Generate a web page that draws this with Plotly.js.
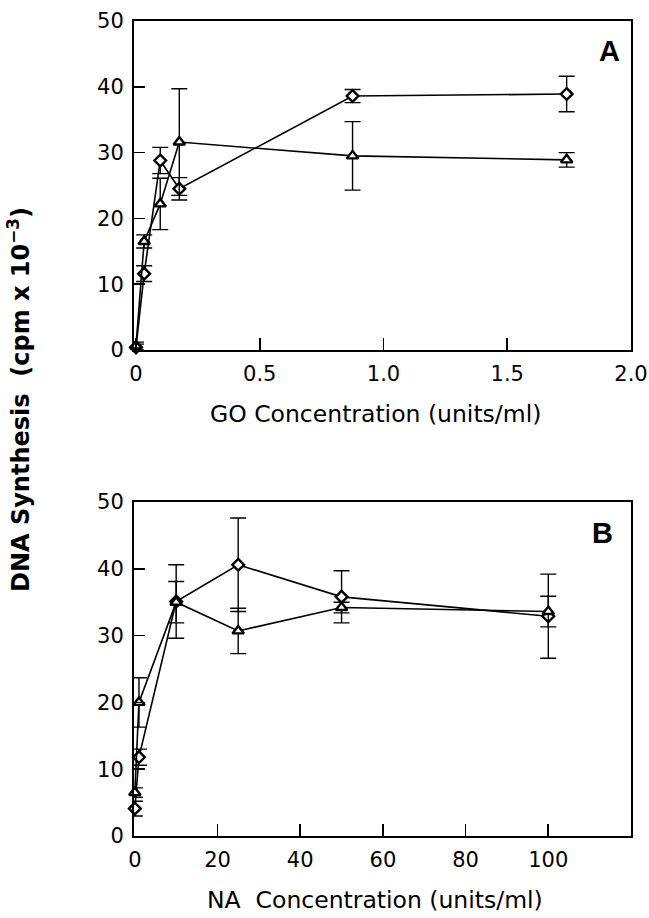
<!DOCTYPE html>
<html>
<head>
<meta charset="utf-8">
<script src="https://cdn.plot.ly/plotly-3.0.1.min.js"></script>
<style>html,body{margin:0;padding:0;background:#fff;}#chart{width:649px;height:918px;}</style>
</head>
<body>
<div id="chart"></div>
<script>
// Panel A: GO concentration (units/ml)
var goX = [0, 0.033, 0.098, 0.175, 0.875, 1.74];
var goDiamond = [0.4, 11.6, 28.8, 24.5, 38.6, 38.9];
var goDiamondErr = [0.5, 1.2, 2.0, 1.7, 1.0, 2.7];
var goTriangle = [0.6, 16.5, 22.2, 31.6, 29.5, 28.9];
var goTriangleErr = [0.6, 1.0, 3.9, 8.1, 5.2, 1.1];

// Panel B: NA concentration (units/ml)
var naX = [0, 1, 10, 25, 50, 100];
var naDiamond = [4.1, 11.8, 35.1, 40.6, 35.8, 32.9];
var naDiamondErr = [1.1, 1.2, 5.5, 7.0, 3.9, 6.3];
var naTriangle = [6.5, 20.0, 35.0, 30.7, 34.2, 33.6];
var naTriangleErr = [0.7, 3.7, 3.1, 3.4, 0.8, 2.3];

var goTickVals = [0, 0.5, 1, 1.5, 2];
var goTickText = ['0', '0.5', '1.0', '1.5', '2.0'];
var naTickVals = [0, 20, 40, 60, 80, 100, 120];
var yTickVals = [0, 10, 20, 30, 40, 50];

var FONT = 'DejaVu Sans, Verdana, sans-serif';
var FONT_B = 'Liberation Sans, Arial, Helvetica, sans-serif';

function series(x, y, err, sym, size, xa, ya) {
  return {
    type: 'scatter', mode: 'lines+markers', x: x, y: y, xaxis: xa, yaxis: ya,
    line: {color: '#000', width: 1.6},
    marker: {symbol: sym, size: size, color: '#fff', line: {color: '#000', width: 2.4}},
    error_y: {type: 'data', array: err, visible: true, color: '#000', thickness: 1.4, width: 8},
    cliponaxis: false, showlegend: false, hoverinfo: 'skip'
  };
}

var data = [
  series(goX, goDiamond, goDiamondErr, 'diamond', 9, 'x', 'y'),
  series(goX, goTriangle, goTriangleErr, 'triangle-up', 10, 'x', 'y'),
  series(naX, naDiamond, naDiamondErr, 'diamond', 9, 'x2', 'y2'),
  series(naX, naTriangle, naTriangleErr, 'triangle-up', 10, 'x2', 'y2')
];

var W = 649, H = 918;
var left = 134, right = 631;
var aTop = 21, aBot = 350, bTop = 502, bBot = 836;

function xax(domain, range, vals, text, anchor) {
  var a = {
    domain: domain, range: range, anchor: anchor,
    tickmode: 'array', tickvals: vals,
    ticks: 'inside', ticklen: 12, tickwidth: 1.6, tickcolor: '#000',
    showline: true, mirror: true, linewidth: 2, linecolor: '#000',
    showgrid: false, zeroline: false, automargin: false,
    ticklabelstandoff: 4,
    tickfont: {family: FONT, size: 21, color: '#000'}
  };
  if (text) a.ticktext = text;
  return a;
}
function yax(domain, anchor) {
  return {
    domain: domain, range: [0, 50], anchor: anchor,
    tickmode: 'array', tickvals: yTickVals,
    ticks: 'inside', ticklen: 11, tickwidth: 1.6, tickcolor: '#000',
    showline: true, mirror: true, linewidth: 2, linecolor: '#000',
    showgrid: false, zeroline: false, automargin: false,
    ticklabelstandoff: 4,
    tickfont: {family: FONT, size: 21, color: '#000'}
  };
}

var layout = {
  width: W, height: H,
  margin: {l: 0, r: 0, t: 0, b: 0, pad: 0},
  paper_bgcolor: '#fff', plot_bgcolor: '#fff',
  showlegend: false,
  xaxis: xax([left / W, right / W], [-0.008, 2.0], goTickVals, goTickText, 'y'),
  yaxis: yax([1 - aBot / H, 1 - aTop / H], 'x'),
  xaxis2: xax([left / W, right / W], [-0.2, 120], naTickVals, null, 'y2'),
  yaxis2: yax([1 - bBot / H, 1 - bTop / H], 'x2'),
  annotations: [
    {text: '<b>A</b>', xref: 'x', yref: 'y', x: 1.915, y: 45.4, showarrow: false,
     xanchor: 'center', yanchor: 'middle',
     font: {family: FONT_B, size: 29, color: '#000'}},
    {text: '<b>B</b>', xref: 'x2', yref: 'y2', x: 113, y: 45.4, showarrow: false,
     xanchor: 'center', yanchor: 'middle',
     font: {family: FONT_B, size: 29, color: '#000'}},
    {text: 'GO Concentration (units/ml)', xref: 'paper', yref: 'paper',
     x: 375 / W, y: 1 - 414 / H, showarrow: false, xanchor: 'center', yanchor: 'middle',
     font: {family: FONT, size: 23.5, color: '#000'}},
    {text: 'NA\u00a0 Concentration (units/ml)', xref: 'paper', yref: 'paper',
     x: 375 / W, y: 1 - 900 / H, showarrow: false, xanchor: 'center', yanchor: 'middle',
     font: {family: FONT, size: 23.5, color: '#000'}},
    {text: '<b>DNA Synthesis\u00a0 (cpm x 10<sup>−3</sup>)</b>', xref: 'paper', yref: 'paper',
     x: 19 / W, y: 1 - 400 / H, showarrow: false, textangle: -90,
     xanchor: 'center', yanchor: 'middle',
     font: {family: FONT, size: 24, color: '#000'}}
  ]
};

Plotly.newPlot('chart', data, layout, {staticPlot: true, displayModeBar: false});
</script>
</body>
</html>
